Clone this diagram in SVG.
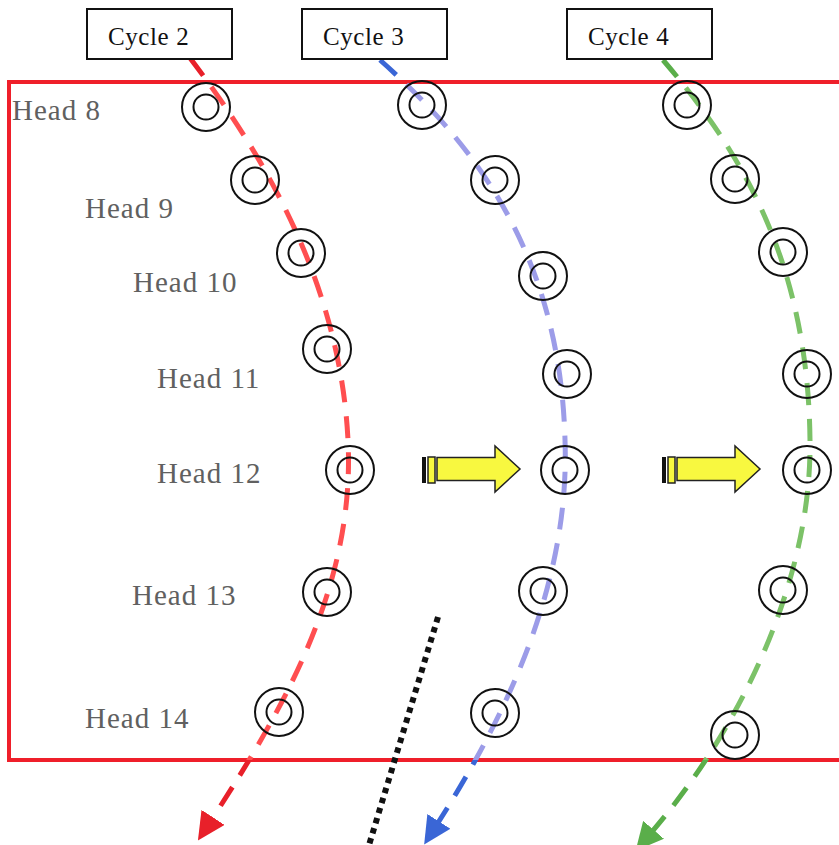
<svg xmlns="http://www.w3.org/2000/svg" width="839" height="845" viewBox="0 0 839 845">
  <style>
    text { font-family: "Liberation Serif", "DejaVu Serif", "Times New Roman", serif; }
    .head { font-size: 29px; fill: #606060; letter-spacing: 1px; }
    .cyc { font-size: 25px; fill: #111; letter-spacing: 0.6px; }
    .cycbox { fill: #fff; stroke: #111; stroke-width: 2; }
    .ring { fill: none; stroke: #111; stroke-width: 2; }
    .trace { fill: none; stroke-width: 5; stroke-dasharray: 22 14; }
    .frame { fill: none; stroke: #ef1f2a; stroke-width: 4; }
    .push { fill: #f8f840; stroke: #222; stroke-width: 1.5; }
  </style>
  <defs>
    <clipPath id="inside">
      <rect x="9" y="82" width="830" height="678"/>
    </clipPath>
    <clipPath id="outside">
      <path clip-rule="evenodd" d="M0,0H839V845H0Z M9,82V760H839V82Z"/>
    </clipPath>
    <marker id="tipRed" viewBox="0 0 10 10" refX="2" refY="5" markerWidth="5.5" markerHeight="5.5" orient="auto" markerUnits="strokeWidth">
      <path d="M0,0L10,5L0,10Z" fill="#e8202a"/>
    </marker>
    <marker id="tipBlue" viewBox="0 0 10 10" refX="2" refY="5" markerWidth="5.5" markerHeight="5.5" orient="auto" markerUnits="strokeWidth">
      <path d="M0,0L10,5L0,10Z" fill="#3a66d6"/>
    </marker>
    <marker id="tipGreen" viewBox="0 0 10 10" refX="2" refY="5" markerWidth="5.5" markerHeight="5.5" orient="auto" markerUnits="strokeWidth">
      <path d="M0,0L10,5L0,10Z" fill="#5aae4a"/>
    </marker>
    <g id="ring">
      <circle class="ring" r="24"/>
      <circle class="ring" r="12.5"/>
    </g>
    <g id="pushArrow">
      <rect x="0" y="-13" width="4" height="26" fill="#111"/>
      <rect class="push" x="6" y="-13" width="7" height="26"/>
      <path class="push" d="M15,-12.5H73V-24L98,-1L73,22V10.5H15Z"/>
    </g>
  </defs>

  <!-- boundary frame -->
  <rect id="frame" class="frame" x="9" y="82" width="840" height="678"/>

  <!-- cycle traces: saturated outside the frame, pale inside it -->
  <g id="connectors">
    <g clip-path="url(#outside)">
      <path class="trace" stroke="#e8202a" d="M190,58 C260,150 340,280 348,440 C355,580 290,700 210,822" marker-end="url(#tipRed)"/>
      <path class="trace" stroke="#3a66d6" d="M380,60 C470,140 560,250 565,440 C570,580 510,710 436,826" marker-end="url(#tipBlue)"/>
      <path class="trace" stroke="#5aae4a" d="M663,60 C740,150 808,260 810,440 C812,580 740,730 650,834" marker-end="url(#tipGreen)"/>
    </g>
    <g clip-path="url(#inside)">
      <path class="trace" stroke="#ff4e50" d="M190,58 C260,150 340,280 348,440 C355,580 290,700 210,822"/>
      <path class="trace" stroke="#9c9ce8" d="M380,60 C470,140 560,250 565,440 C570,580 510,710 436,826"/>
      <path class="trace" stroke="#7cc268" d="M663,60 C740,150 808,260 810,440 C812,580 740,730 650,834"/>
    </g>
    <!-- dotted divider -->
    <line x1="438" y1="617" x2="369" y2="845" stroke="#111" stroke-width="6" stroke-dasharray="5.5 5"/>
  </g>

  <!-- cycle labels -->
  <g id="cycle2">
    <rect class="cycbox" x="87" y="9" width="145" height="50"/>
    <text class="cyc" x="108" y="45">Cycle 2</text>
  </g>
  <g id="cycle3">
    <rect class="cycbox" x="302" y="9" width="145" height="50"/>
    <text class="cyc" x="323" y="45">Cycle 3</text>
  </g>
  <g id="cycle4">
    <rect class="cycbox" x="567" y="9" width="145" height="50"/>
    <text class="cyc" x="588" y="45">Cycle 4</text>
  </g>

  <!-- head labels -->
  <g id="headLabels">
    <text class="head" x="12" y="120">Head 8</text>
    <text class="head" x="85" y="218">Head 9</text>
    <text class="head" x="133" y="292">Head 10</text>
    <text class="head" x="157" y="388">Head 11</text>
    <text class="head" x="157" y="483">Head 12</text>
    <text class="head" x="132" y="605">Head 13</text>
    <text class="head" x="85" y="728">Head 14</text>
  </g>

  <!-- heads, cycle 2 -->
  <g id="c2h8"><use href="#ring" x="206" y="107"/></g>
  <g id="c2h9"><use href="#ring" x="255" y="180"/></g>
  <g id="c2h10"><use href="#ring" x="301" y="253"/></g>
  <g id="c2h11"><use href="#ring" x="327" y="349"/></g>
  <g id="c2h12"><use href="#ring" x="350" y="470"/></g>
  <g id="c2h13"><use href="#ring" x="327" y="592"/></g>
  <g id="c2h14"><use href="#ring" x="279" y="712"/></g>

  <!-- heads, cycle 3 -->
  <g id="c3h8"><use href="#ring" x="422" y="105"/></g>
  <g id="c3h9"><use href="#ring" x="495" y="180"/></g>
  <g id="c3h10"><use href="#ring" x="543" y="276"/></g>
  <g id="c3h11"><use href="#ring" x="567" y="374"/></g>
  <g id="c3h12"><use href="#ring" x="565" y="470"/></g>
  <g id="c3h13"><use href="#ring" x="543" y="591"/></g>
  <g id="c3h14"><use href="#ring" x="495" y="713"/></g>

  <!-- heads, cycle 4 -->
  <g id="c4h8"><use href="#ring" x="687" y="105"/></g>
  <g id="c4h9"><use href="#ring" x="735" y="179"/></g>
  <g id="c4h10"><use href="#ring" x="783" y="252"/></g>
  <g id="c4h11"><use href="#ring" x="807" y="374"/></g>
  <g id="c4h12"><use href="#ring" x="807" y="470"/></g>
  <g id="c4h13"><use href="#ring" x="783" y="590"/></g>
  <g id="c4h14"><use href="#ring" x="735" y="735"/></g>

  <!-- progression arrows -->
  <g id="shift1"><use href="#pushArrow" x="422" y="470"/></g>
  <g id="shift2"><use href="#pushArrow" x="662" y="470"/></g>
</svg>
